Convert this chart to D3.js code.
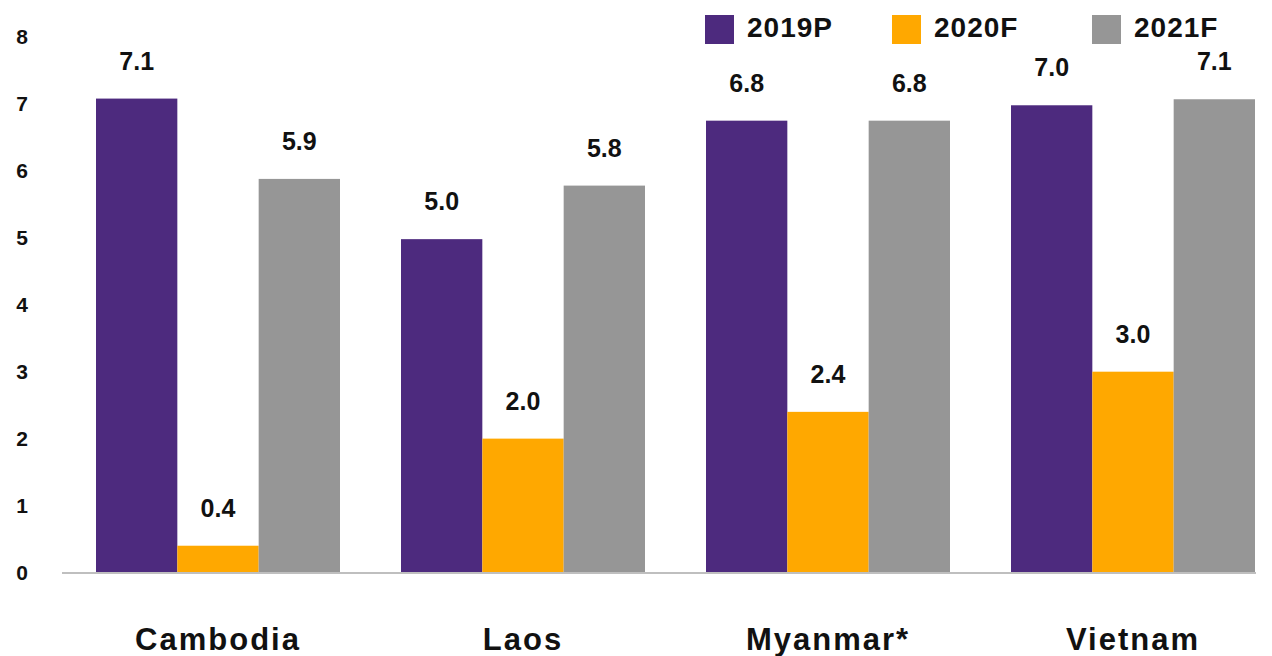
<!DOCTYPE html>
<html>
<head>
    <style>
        body { margin: 0; background: #fff; }
        text { font-family: "Liberation Sans", Arial, sans-serif; font-weight: bold; fill: #111; }
        .tick-label { font-size: 21px; text-anchor: middle; }
        .value { font-size: 25px; text-anchor: middle; }
        .cat { font-size: 31px; text-anchor: middle; letter-spacing: 2px; }
        .legend text { font-size: 28px; letter-spacing: 1px; }
    </style>
    <script src="https://d3js.org/d3.v7.min.js"></script>
</head>
<body>
    <svg width="1272" height="656"></svg>
    <script>
        var categories = ["Cambodia", "Laos", "Myanmar*", "Vietnam"];
        var seriesNames = ["2019P", "2020F", "2021F"];
        var values2019P = [7.08, 4.98, 6.75, 6.98];
        var values2020F = [0.4, 2.0, 2.4, 3.0];
        var values2021F = [5.88, 5.78, 6.75, 7.07];
        var yTicks = [0, 1, 2, 3, 4, 5, 6, 7, 8];
        var colors = ["#4d2a7e", "#ffa800", "#969696"];

        var series = [values2019P, values2020F, values2021F];
        var fmt = d3.format(".1f");

        var svg = d3.select("svg");

        var x0 = d3.scaleBand()
            .domain(categories)
            .range([65.5, 1285.5])
            .paddingInner(0.2)
            .paddingOuter(0.1);

        var x1 = d3.scaleBand()
            .domain(seriesNames)
            .range([0, x0.bandwidth()]);

        var y = d3.scaleLinear()
            .domain([0, 8])
            .range([572.5, 37]);

        var color = d3.scaleOrdinal(seriesNames, colors);

        // y tick labels (no axis line)
        svg.append("g").selectAll("text")
            .data(yTicks)
            .enter().append("text")
            .attr("class", "tick-label")
            .attr("x", 22)
            .attr("y", function(d) { return y(d); })
            .attr("dy", "0.35em")
            .text(function(d) { return d; });

        // bars
        var groups = svg.append("g").selectAll("g")
            .data(categories)
            .enter().append("g")
            .attr("transform", function(d) { return "translate(" + x0(d) + ",0)"; });

        function rows(d, i) {
            return seriesNames.map(function(s, j) { return { key: s, value: series[j][i] }; });
        }

        groups.selectAll("rect")
            .data(rows)
            .enter().append("rect")
            .attr("x", function(d) { return x1(d.key); })
            .attr("y", function(d) { return y(d.value); })
            .attr("width", x1.bandwidth())
            .attr("height", function(d) { return y(0) - y(d.value); })
            .attr("fill", function(d) { return color(d.key); });

        groups.selectAll("text.value")
            .data(rows)
            .enter().append("text")
            .attr("class", "value")
            .attr("x", function(d) { return x1(d.key) + x1.bandwidth() / 2; })
            .attr("y", function(d) { return y(d.value) - 29; })
            .text(function(d) { return fmt(d.value); });

        // baseline
        svg.append("line")
            .attr("x1", 62).attr("x2", 1256)
            .attr("y1", y(0) + 0.5).attr("y2", y(0) + 0.5)
            .attr("stroke", "#bfbfbf")
            .attr("stroke-width", 2);

        // category labels
        svg.append("g").selectAll("text")
            .data(categories)
            .enter().append("text")
            .attr("class", "cat")
            .attr("x", function(d) { return x0(d) + x0.bandwidth() / 2; })
            .attr("y", 650)
            .text(function(d) { return d; });

        // legend
        var legendX = [705, 892, 1092];
        var legend = svg.append("g").attr("class", "legend").selectAll("g")
            .data(seriesNames)
            .enter().append("g")
            .attr("transform", function(d, i) { return "translate(" + legendX[i] + ",15)"; });

        legend.append("rect")
            .attr("width", 29).attr("height", 29)
            .attr("fill", function(d) { return color(d); });

        legend.append("text")
            .attr("x", 42)
            .attr("y", 22)
            .text(function(d) { return d; });
    </script>
</body>
</html>
